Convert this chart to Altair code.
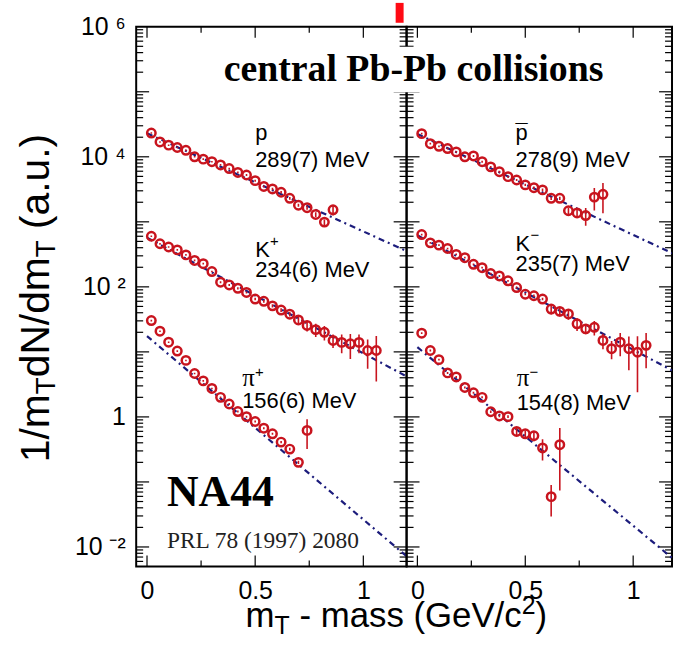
import altair as alt
import pandas as pd

FONT = "Liberation Sans"
SERIF = "Liberation Serif"
RED = "#c8141e"
BLUE = "#1c1c7c"

# ---------------- data ----------------
# left panel: p, K+, pi+
X_P = [0.02, 0.06, 0.10, 0.14, 0.18, 0.22, 0.26, 0.30, 0.34, 0.38, 0.42,
       0.46, 0.50, 0.54, 0.58, 0.62, 0.66, 0.70, 0.74, 0.78, 0.82, 0.86]
Y_P = [23200, 16900, 15100, 13900, 12600, 10000, 9200, 8400, 7500, 6600, 5750,
       5250, 4300, 3500, 3200, 2850, 2300, 1800, 1650, 1300, 990, 1530]
E_P = [600, 450, 400, 370, 340, 280, 260, 240, 220, 200, 180,
       170, 150, 130, 130, 120, 110, 100, 110, 110, 100, 280]

X_KP = [0.02, 0.06, 0.10, 0.14, 0.18, 0.22, 0.26, 0.30, 0.34, 0.38, 0.42, 0.46, 0.50, 0.54,
        0.58, 0.62, 0.66, 0.70, 0.74, 0.78, 0.82, 0.86, 0.90, 0.94, 0.98, 1.02, 1.06]
Y_KP = [600, 460, 410, 370, 310, 255, 227, 172, 118, 107, 95, 82, 65, 60,
        51, 44, 38, 31, 25.5, 22, 20, 15, 14, 13.3, 14, 10.5, 10.5]
E_KP = [18, 14, 12, 11, 9, 8, 7, 5, 4, 4, 4, 3, 3, 3,
        3, 3, 3, 5, 5, 5, 5, 3.5, 4.5, 5.5, 4.5, 5, 7]

X_PIP = [0.02, 0.06, 0.10, 0.14, 0.18, 0.22, 0.26, 0.30, 0.34, 0.38,
         0.42, 0.46, 0.50, 0.54, 0.58, 0.62, 0.66, 0.70, 0.74]
Y_PIP = [30.3, 20.8, 14.1, 10.3, 7.4, 4.65, 3.58, 2.74, 2.0, 1.58,
         1.21, 1.01, 0.85, 0.67, 0.55, 0.41, 0.32, 0.20, 0.62]
E_PIP = [0.9, 0.6, 0.4, 0.3, 0.2, 0.13, 0.1, 0.08, 0.06, 0.05,
         0.04, 0.035, 0.03, 0.025, 0.02, 0.018, 0.015, 0.012, 0.3]

# right panel: pbar, K-, pi-
X_PB = [0.02, 0.06, 0.10, 0.14, 0.18, 0.22, 0.26, 0.30, 0.34, 0.38, 0.42,
        0.46, 0.50, 0.54, 0.58, 0.62, 0.66, 0.70, 0.74, 0.78, 0.82, 0.86]
Y_PB = [22700, 15900, 14500, 13400, 11900, 10000, 10300, 8400, 7000, 5900, 4950,
        4400, 3700, 3350, 3100, 2300, 2300, 1480, 1370, 1250, 2400, 2650]
E_PB = [700, 500, 450, 420, 380, 330, 340, 280, 240, 210, 180,
        170, 150, 150, 150, 130, 140, 160, 200, 380, 900, 1300]

X_KM = [0.02, 0.06, 0.10, 0.14, 0.18, 0.22, 0.26, 0.30, 0.34, 0.38, 0.42, 0.46, 0.50, 0.54,
        0.58, 0.62, 0.66, 0.70, 0.74, 0.78, 0.82, 0.86, 0.90, 0.94, 0.98, 1.02, 1.06]
Y_KM = [637, 475, 438, 389, 315, 281, 222, 197, 160, 147, 124, 97.5, 77, 73,
        65, 45.6, 42, 38.3, 27, 22.6, 23.9, 15, 11.2, 14.1, 11.2, 9.9, 12.6]
E_KM = [20, 15, 13, 12, 10, 9, 7, 6, 5, 5, 4, 3.5, 3, 3,
        3, 8, 7, 7, 6, 4, 6, 4, 3.5, 5.5, 6, 7.5, 7]

X_PIM = [0.02, 0.06, 0.10, 0.14, 0.18, 0.22, 0.26, 0.30, 0.34,
         0.38, 0.42, 0.46, 0.50, 0.54, 0.58, 0.62, 0.66]
Y_PIM = [19.4, 10.5, 7.6, 4.75, 4.12, 2.84, 2.35, 2.0, 1.2,
         1.035, 1.01, 0.597, 0.55, 0.513, 0.333, 0.0594, 0.374]
E_PIM = [0.6, 0.35, 0.25, 0.16, 0.14, 0.1, 0.08, 0.07, 0.05,
         0.05, 0.05, 0.08, 0.07, 0.09, 0.12, 0.03, 0.3]

# exponential fits (dash-dotted): end points
FIT_X_L = [0.0, 1.2]
FIT_P = [23000, 355]
FIT_KP = [570, 4.2]
FIT_PIP = [17.5, 0.0072]
FIT_X_R = [0.0, 1.18]
FIT_PB = [22500, 330]
FIT_KM = [620, 5.2]
FIT_PIM = [11.8, 0.0068]

# annotations (text, x, y)
LAB_L = [("p", 0.50, 1.82e4), ("289(7) MeV", 0.50, 7.0e3),
         ("K", 0.50, 287), ("234(6) MeV", 0.50, 142),
         ("156(6) MeV", 0.44, 1.37)]
PI_L = [("π", 0.44, 2.97)]
SUPK_L = [("+", 0.50, 287)]
SUPPI_L = [("+", 0.44, 2.97)]

LAB_R = [("p", 0.455, 1.82e4), ("¯", 0.455, 1.82e4), ("278(9) MeV", 0.455, 7.0e3),
         ("K", 0.455, 355), ("235(7) MeV", 0.455, 175),
         ("154(8) MeV", 0.46, 1.28)]
PI_R = [("π", 0.46, 2.97)]
SUPK_R = [("−", 0.455, 355)]
SUPPI_R = [("−", 0.46, 2.97)]

# axis ticks
Y_LABEL_VALUES = [1e-2, 1, 1e2, 1e4, 1e6]
Y_MAJOR = [1e-2, 1e-1, 1, 10, 1e2, 1e3, 1e4, 1e5]
Y_MINOR = [k * 10.0 ** n for n in range(-3, 6) for k in range(2, 10)
           if 0.0051 < k * 10.0 ** n < 1e6]
X_MAJOR = [0, 0.5, 1]
X_MINOR = [0.25, 0.75]

H = 543
YDOM = [0.005, 1e6]


def series_df(name, xs, ys, es):
    d = pd.DataFrame({"x": xs, "y": ys, "e": es})
    d["s"] = name
    d["lo"] = d["y"] - d["e"]
    d["hi"] = d["y"] + d["e"]
    return d


def fit_df(name, xs, ys):
    return pd.DataFrame({"x": xs, "y": ys, "s": name})


def lab_df(rows):
    return pd.DataFrame(rows, columns=["t", "x", "y"])


ONE = pd.DataFrame({"t": [""]})


def pix_text(text, x, y, **kw):
    return alt.Chart(pd.DataFrame({"t": [text]})).mark_text(**kw).encode(
        x=alt.value(x), y=alt.value(y), text="t:N")


def panel(W, xdom, pts, fits, labs, pis, supk, suppi, show_y, extra):
    xs = alt.Scale(domain=xdom, nice=False, zero=False)
    ys = alt.Scale(type="log", domain=YDOM, nice=False)
    xax = alt.Axis(values=X_MAJOR,
                   labelExpr="datum.value == 0 ? '0' : (datum.value == 1 ? '1' : '0.5')",
                   ticks=False, domain=False, grid=False, labelFont=FONT,
                   labelFontSize=25, labelPadding=12, labelColor="black", title=None)
    if show_y:
        yax = alt.Axis(values=Y_LABEL_VALUES,
                       labelExpr="datum.value > 5e5 ? '10 ⁶' : (datum.value > 5e3 ? '10 ⁴' : "
                                 "(datum.value > 50 ? '10 ²' : (datum.value > 0.5 ? '1' : '10 ⁻²')))",
                       ticks=False, domain=False, grid=False, labelFont=FONT,
                       labelFontSize=25, labelPadding=11, labelColor="black", title=None)
    else:
        yax = None

    def X(f):
        return alt.X(f, type="quantitative", scale=xs, axis=xax)

    def Y(f):
        return alt.Y(f, type="quantitative", scale=ys, axis=yax)

    layers = []
    # inward ticks
    ymaj = pd.DataFrame({"v": Y_MAJOR})
    ymin = pd.DataFrame({"v": Y_MINOR})
    xmaj = pd.DataFrame({"v": X_MAJOR})
    xmin = pd.DataFrame({"v": X_MINOR})
    tick = dict(color="black", strokeWidth=1.2)
    for d, L in ((ymaj, 13), (ymin, 7)):
        layers.append(alt.Chart(d).mark_rule(**tick).encode(
            y=Y("v"), x=alt.value(0), x2=alt.value(L)))
        layers.append(alt.Chart(d).mark_rule(**tick).encode(
            y=Y("v"), x=alt.value(W - L), x2=alt.value(W)))
    for d, L in ((xmaj, 11), (xmin, 6)):
        layers.append(alt.Chart(d).mark_rule(**tick).encode(
            x=X("v"), y=alt.value(H - L), y2=alt.value(H)))
        layers.append(alt.Chart(d).mark_rule(**tick).encode(
            x=X("v"), y=alt.value(0), y2=alt.value(L)))

    layers.append(alt.Chart(fits).mark_line(
        color=BLUE, strokeWidth=2.2, strokeDash=[6, 4, 2, 4], clip=True).encode(
        x=X("x"), y=Y("y"), detail="s:N"))
    layers.append(alt.Chart(pts).mark_rule(color=RED, strokeWidth=1.6, clip=True).encode(
        x=X("x"), y=Y("lo"), y2="hi"))
    layers.append(alt.Chart(pts).mark_point(
        shape="circle", filled=False, color=RED, size=72, strokeWidth=2.5, opacity=1).encode(
        x=X("x"), y=Y("y"), detail="s:N"))
    layers.append(alt.Chart(labs).mark_text(
        align="left", baseline="alphabetic", font=FONT, fontSize=22, color="black").encode(
        x=X("x"), y=Y("y"), text="t:N"))
    layers.append(alt.Chart(pis).mark_text(
        align="left", baseline="alphabetic", font=SERIF, fontSize=25, color="black").encode(
        x=X("x"), y=Y("y"), text="t:N"))
    layers.append(alt.Chart(supk).mark_text(
        align="left", baseline="alphabetic", font=FONT, fontSize=15, color="black",
        dx=15, dy=-11).encode(x=X("x"), y=Y("y"), text="t:N"))
    layers.append(alt.Chart(suppi).mark_text(
        align="left", baseline="alphabetic", font=FONT, fontSize=15, color="black",
        dx=13, dy=-9).encode(x=X("x"), y=Y("y"), text="t:N"))
    layers += extra
    return alt.layer(*layers).properties(width=W, height=H)


pts_l = pd.concat([series_df("p", X_P, Y_P, E_P), series_df("K+", X_KP, Y_KP, E_KP),
                   series_df("pi+", X_PIP, Y_PIP, E_PIP)], ignore_index=True)
fits_l = pd.concat([fit_df("p", FIT_X_L, FIT_P), fit_df("K+", FIT_X_L, FIT_KP),
                    fit_df("pi+", FIT_X_L, FIT_PIP)], ignore_index=True)
pts_r = pd.concat([series_df("pbar", X_PB, Y_PB, E_PB), series_df("K-", X_KM, Y_KM, E_KM),
                   series_df("pi-", X_PIM, Y_PIM, E_PIM)], ignore_index=True)
fits_r = pd.concat([fit_df("pbar", FIT_X_R, FIT_PB), fit_df("K-", FIT_X_R, FIT_KM),
                    fit_df("pi-", FIT_X_R, FIT_PIM)], ignore_index=True)

# decorations positioned relative to the left panel's plot origin
extra_left = [
    alt.Chart(ONE).mark_rule(color="white", strokeWidth=1).encode(
        x=alt.value(-135), x2=alt.value(-134), y=alt.value(0)),
    pix_text("NA44", 31, 482, align="left", baseline="alphabetic",
             font=SERIF, fontWeight="bold", fontSize=44, color="black"),
    pix_text("PRL 78 (1997) 2080", 31, 524, align="left", baseline="alphabetic",
             font=SERIF, fontSize=23.5, color="#222222"),
    # y title: 1/m_T dN/dm_T (a.u.)
    pix_text("1/m", -88, 438, align="left", baseline="alphabetic", angle=270,
             font=FONT, fontSize=41, color="black"),
    pix_text("T", -82, 369.7, align="left", baseline="alphabetic", angle=270,
             font=FONT, fontSize=28, color="black"),
    pix_text("dN/dm", -88, 352.6, align="left", baseline="alphabetic", angle=270,
             font=FONT, fontSize=41, color="black"),
    pix_text("T", -82, 231.9, align="left", baseline="alphabetic", angle=270,
             font=FONT, fontSize=28, color="black"),
    pix_text("(a.u.)", -88, 203.4, align="left", baseline="alphabetic", angle=270,
             font=FONT, fontSize=41, color="black"),
    # x title: m_T - mass (GeV/c^2)
    pix_text("m", 110, 604, align="left", baseline="alphabetic",
             font=FONT, fontSize=35, color="black"),
    pix_text("T", 139.2, 611, align="left", baseline="alphabetic",
             font=FONT, fontSize=25, color="black"),
    pix_text("- mass (GeV/c", 164.2, 604, align="left", baseline="alphabetic",
             font=FONT, fontSize=35, color="black"),
    pix_text("2", 387.9, 591, align="left", baseline="alphabetic",
             font=FONT, fontSize=25, color="black"),
    pix_text(")", 401.8, 604, align="left", baseline="alphabetic",
             font=FONT, fontSize=35, color="black"),
]

# decorations positioned relative to the right panel's plot origin (drawn last)
extra_right = [
    alt.Chart(ONE).mark_rect(color="#ff0a14").encode(
        x=alt.value(-11), x2=alt.value(-3), y=alt.value(-24), y2=alt.value(-4)),
    alt.Chart(ONE).mark_rect(color="white").encode(
        x=alt.value(-195), x2=alt.value(212), y=alt.value(20), y2=alt.value(66)),
    pix_text("central Pb-Pb collisions", 7, 44, align="center", baseline="middle",
             font=SERIF, fontWeight="bold", fontSize=38, color="black"),
]

left = panel(272, [-0.05, 1.2], pts_l, fits_l, lab_df(LAB_L), lab_df(PI_L),
             lab_df(SUPK_L), lab_df(SUPPI_L), True, extra_left)
right = panel(267, [-0.05, 1.18], pts_r, fits_r, lab_df(LAB_R), lab_df(PI_R),
              lab_df(SUPK_R), lab_df(SUPPI_R), False, extra_right)

chart = alt.hconcat(left, right, spacing=0, bounds="flush").configure_view(
    stroke="black", strokeWidth=2).properties(padding=0, background="white")

chart.save("out.html", embed_options={"renderer": "svg", "actions": False})
